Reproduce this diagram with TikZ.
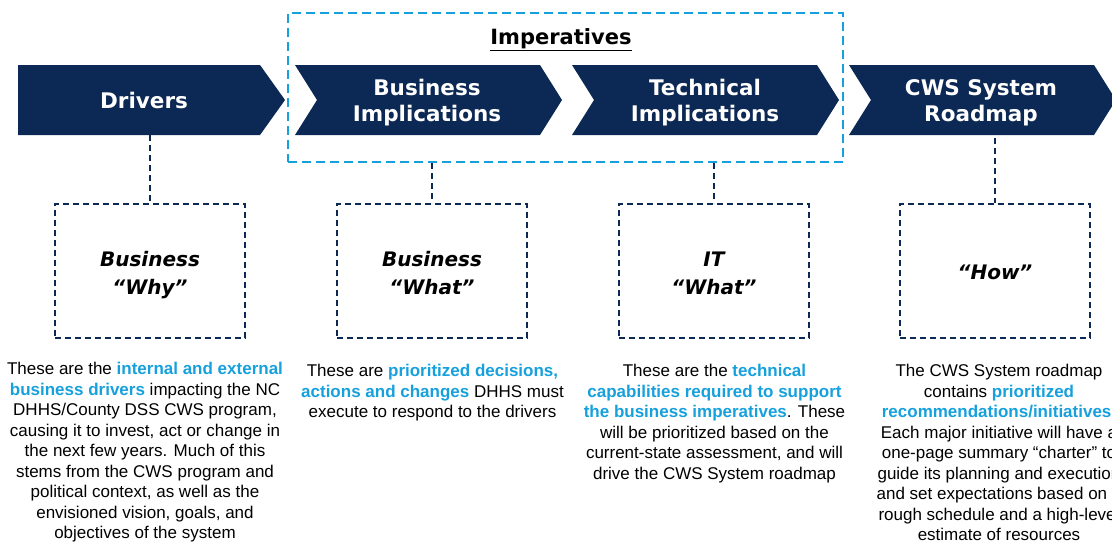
\documentclass[tikz,border=0pt]{standalone}
\usepackage{fontspec}
\setmainfont{Liberation Sans}
\newfontfamily\headfont{DejaVu Sans}
\definecolor{navy}{RGB}{12,40,84}
\definecolor{accent}{RGB}{22,160,220}
\newcommand{\hilite}[1]{\textcolor{accent}{\textbf{#1}}}
\begin{document}
\begin{tikzpicture}[x=1pt, y=-1pt, thick,
  stage/.style={text=white, align=center, minimum height=70pt, inner sep=0pt,
    font=\headfont\bfseries\fontsize{21.5}{26}\selectfont},
  lens/.style={draw=navy, line width=2pt, dash pattern=on 6pt off 4pt,
    minimum width=190pt, minimum height=134pt},
  lenstext/.style={align=center, inner sep=0pt, text depth=0pt, yshift=-2pt,
    font=\headfont\bfseries\itshape\fontsize{20}{28}\selectfont},
  link/.style={draw=navy, line width=2pt, dash pattern=on 6pt off 4pt},
  note/.style={anchor=north, align=center, inner sep=0pt,
    font=\fontsize{17}{20.5}\selectfont}]

\useasboundingbox (0,0) rectangle (1112,544);

% CHEVRONS
\fill[navy] (18,65) -- (260,65) -- (285,100) -- (260,135) -- (18,135) -- cycle;
\foreach \x in {295,572,849}
  \fill[navy] (\x,65) -- (\x+245,65) -- (\x+267,100) -- (\x+245,135)
    -- (\x,135) -- (\x+22,100) -- cycle;

\node[stage] (drv) at (144,100) {Drivers};
\node[stage] (bimp) at (427,103) {Business\\Implications};
\node[stage] (timp) at (705,103) {Technical\\Implications};
\node[stage] (road) at (981,103) {CWS System\\Roadmap};

% Imperatives frame
\node[draw=accent, line width=2pt, dash pattern=on 9pt off 5pt, inner sep=0pt,
  minimum width=555pt, minimum height=149pt] (imp) at (565.5,87.5) {};
\node[font=\headfont\bfseries\fontsize{21}{25}\selectfont] (title) at (561,39.5)
  {\underline{Imperatives}};

% QUESTION BOXES
\node[lens] (why) at (150,271) {};
\node[lenstext] (whylbl) at (why) {Business\\“Why”};
\node[lens] (what) at (432,271) {};
\node[lenstext] (whatlbl) at (what) {Business\\“What”};
\node[lens] (itwhat) at (714,271) {};
\node[lenstext] (itwhatlbl) at (itwhat) {IT\\“What”};
\node[lens] (how) at (995,271) {};
\node[lenstext, yshift=1pt] (howlbl) at (how) {“How”};

% Dashed links
\draw[link] (drv.south -| why.north) -- (why.north);
\draw[link] (imp.south -| what.north) -- (what.north);
\draw[link] (imp.south -| itwhat.north) -- (itwhat.north);
\draw[link] (road.south -| how.north) -- (how.north);

% DESCRIPTIONS
\node[note] (drvtxt) at (145,362) {These are the \hilite{internal and external}\\
  \hilite{business drivers} impacting the NC\\
  DHHS/County DSS CWS program,\\
  causing it to invest, act or change in\\
  the next few years. Much of this\\
  stems from the CWS program and\\
  political context, as well as the\\
  envisioned vision, goals, and\\
  objectives of the system};

\node[note] (whattxt) at (432.5,364) {These are \hilite{prioritized decisions,}\\
  \hilite{actions and changes} DHHS must\\
  execute to respond to the drivers};

\node[note] (ittxt) at (714.5,364) {These are the \hilite{technical}\\
  \hilite{capabilities required to support}\\
  \hilite{the business imperatives}. These\\
  will be prioritized based on the\\
  current-state assessment, and will\\
  drive the CWS System roadmap};

\node[note] (howtxt) at (999,364) {The CWS System roadmap\\
  contains \hilite{prioritized}\\
  \hilite{recommendations/initiatives}.\\
  Each major initiative will have a\\
  one-page summary “charter” to\\
  guide its planning and execution\\
  and set expectations based on a\\
  rough schedule and a high-level\\
  estimate of resources};

\end{tikzpicture}
\end{document}
